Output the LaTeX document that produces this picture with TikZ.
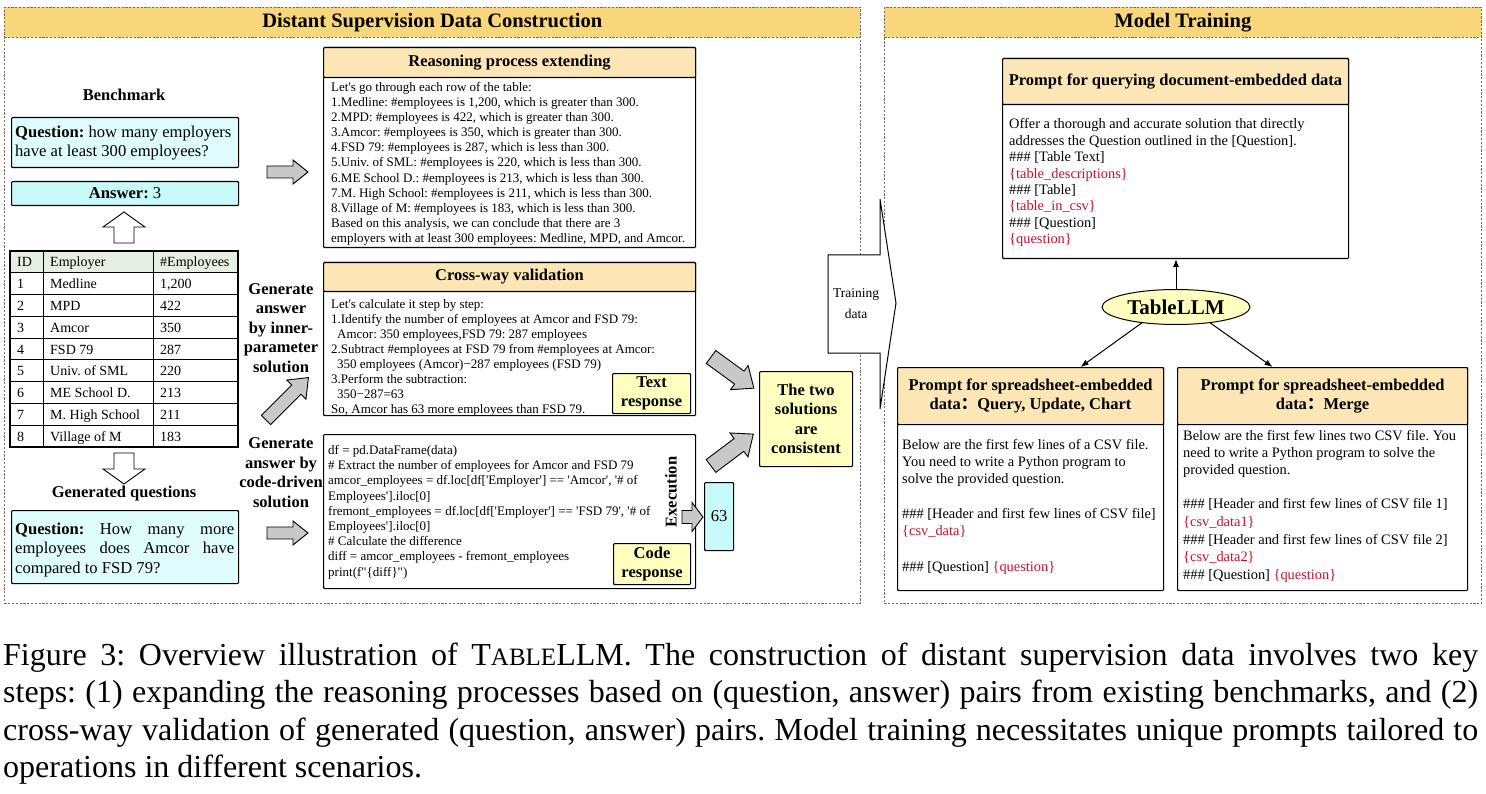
\documentclass[tikz,border=0pt]{standalone}
\usepackage{fontspec}
\setmainfont{Liberation Serif}
\newfontfamily\plainfont{Liberation Serif}
\newfontfamily\cjkfont{Noto Sans CJK SC}
\usetikzlibrary{shapes.geometric,arrows.meta,calc}
\definecolor{bandorange}{RGB}{249,214,122}
\definecolor{headorange}{RGB}{252,230,182}
\definecolor{qcyan}{RGB}{224,253,253}
\definecolor{acyan}{RGB}{200,250,250}
\definecolor{ycell}{RGB}{255,255,192}
\definecolor{thead}{RGB}{230,240,226}
\definecolor{agrey}{RGB}{200,200,200}
\definecolor{vred}{RGB}{190,20,50}
\definecolor{panelline}{RGB}{110,110,110}
\frenchspacing
\newcommand\myBody{\plainfont\fontsize{13}{15}\selectfont}
\newcommand\myPBody{\plainfont\fontsize{14.4}{16}\selectfont}
\newcommand\myHead{\bfseries\fontsize{20.5}{22}\selectfont}
\newcommand\myLabel{\bfseries\fontsize{16.5}{19.5}\selectfont}
\newcommand\myQ{\fontsize{16.6}{19}\selectfont}
\newcommand\myTab{\fontsize{14}{16}\selectfont}
\newcommand\myCap{\fontsize{32}{37.5}\selectfont}
\newcommand\myTrain{\fontsize{13.5}{21}\selectfont}
\tikzset{
  panel/.style={draw=panelline, dash pattern=on 2.2pt off 1.6pt, line width=0.7pt, inner sep=0, anchor=north west},
  band/.style={panel, fill=bandorange},
  box/.style={draw=black, line width=1.1pt, rounded corners=1pt, inner sep=0, anchor=north west},
  qbox/.style={box, fill=qcyan},
  hbox/.style={box, fill=headorange},
  ybox/.style={box, fill=ycell},
  txt/.style={anchor=base west, inner sep=0, font=\myBody},
  ptxt/.style={anchor=base west, inner sep=0, font=\myPBody},
  conn/.style={line width=1pt, -{Latex[length=8pt,width=6pt]}},
  pics/barrow/.style args={#1/#2/#3/#4}{code={
    \path[pic actions] (0,-#2/2) -- ({#1-#4},-#2/2) -- ({#1-#4},-#3/2) -- (#1,0) -- ({#1-#4},#3/2) -- ({#1-#4},#2/2) -- (0,#2/2) -- cycle;}},
  garrow/.style={draw=black, fill=agrey, line width=0.9pt, line join=miter},
  warrow/.style={draw=black, fill=white, line width=0.9pt, line join=miter},
}
\begin{document}
\frenchspacing
\begin{tikzpicture}[x=1pt,y=-1pt]
\useasboundingbox (0,0) rectangle (1486,794);
\fill[white] (0,0) rectangle (1486,794);

% panels
\node[panel, minimum width=856, minimum height=596] (panelL) at (4,7) {};
\node[band, minimum width=856, minimum height=30] (bandL) at (4,7) {};
\node[font=\myHead] (titleL) at (bandL.center) {Distant Supervision Data Construction};
\node[panel, minimum width=597, minimum height=596] (panelR) at (884,7) {};
\node[band, minimum width=597, minimum height=30] (bandR) at (884,7) {};
\node[font=\myHead] (titleR) at (bandR.center) {Model Training};

% benchmark
\node[font=\myLabel] (bench) at (124,95) {Benchmark};
\node[qbox, minimum width=227, minimum height=50] (q1) at (11,117) {};
\node[anchor=base west, inner sep=0, font=\myQ] (q1a) at (15,138) {\textbf{Question:} how many employers};
\node[anchor=base west, inner sep=0, font=\myQ] (q1b) at (15,157) {have at least 300 employees?};
\node[box, fill=acyan, minimum width=227, minimum height=24] (ans) at (11,181) {};
\node[font=\myQ] (anst) at (ans.center) {\textbf{Answer:} 3};
\pic[warrow, rotate=90] at (124,243) {barrow=31/20/42/15};

% table
\fill[thead] (10,251) rectangle (238,272.75);
\foreach \k in {1,...,8} \draw[line width=0.6pt] (10,{251+21.75*\k}) -- (238,{251+21.75*\k});
\draw[line width=0.6pt] (43,251) -- (43,447) (153,251) -- (153,447);
\draw[line width=1.5pt] (10,251) rectangle (238,447);
\node[anchor=base west, inner sep=0, font=\myTab] (th1) at (17,267) {ID};
\node[anchor=base west, inner sep=0, font=\myTab] (th2) at (50,267) {Employer};
\node[anchor=base west, inner sep=0, font=\myTab] (th3) at (160,267) {\#Employees};
\foreach \a/\b/\c [count=\k] in {1/Medline/{1,200},2/MPD/422,3/Amcor/350,4/FSD 79/287,5/Univ. of SML/220,6/ME School D./213,7/M. High School/211,8/Village of M/183}{
  \node[anchor=base west, inner sep=0, font=\myTab] (ta\k) at (17,{267+21.75*\k}) {\a};
  \node[anchor=base west, inner sep=0, font=\myTab] (tb\k) at (50,{267+21.75*\k}) {\b};
  \node[anchor=base west, inner sep=0, font=\myTab] (tc\k) at (160,{267+21.75*\k}) {\c};
}
\pic[warrow, rotate=-90] at (124,453) {barrow=31/20/42/15};
\node[font=\myLabel] (genq) at (124,494) {Generated questions};
\node[qbox, minimum width=227, minimum height=73] (q2) at (11,510) {};
\node[anchor=base west, inner sep=0, font=\myQ] (q2a) at (15,534) {\makebox[219pt][s]{\textbf{Question:} How many more}};
\node[anchor=base west, inner sep=0, font=\myQ] (q2b) at (15,553) {\makebox[219pt][s]{employees does Amcor have}};
\node[anchor=base west, inner sep=0, font=\myQ] (q2c) at (15,573) {compared to FSD 79?};

% middle arrows and labels
\pic[garrow] at (267,172) {barrow=41/12/24/15};
\pic[garrow] at (267,533) {barrow=41/12/24/15};
\pic[garrow, rotate=45] at (266,420) {barrow=60/13/27/17};
\node[font=\myLabel, align=center] (gen1) at (281,328) {Generate\\answer\\by inner-\\parameter\\solution};
\node[font=\myLabel, align=center] (gen2) at (281,472.5) {Generate\\answer by\\code-driven\\solution};

% reasoning box
\node[box, minimum width=372, minimum height=200] (reason) at (323,47) {};
\node[hbox, minimum width=372, minimum height=30] (reasonH) at (323,47) {};
\node[font=\myLabel] (reasonT) at (reasonH.center) {Reasoning process extending};
\foreach \lineText [count=\i from 0] in {
 {Let's go through each row of the table:},
 {1.Medline: \#employees is 1,200, which is greater than 300.},
 {2.MPD: \#employees is 422, which is greater than 300.},
 {3.Amcor: \#employees is 350, which is greater than 300.},
 {4.FSD 79: \#employees is 287, which is less than 300.},
 {5.Univ. of SML: \#employees is 220, which is less than 300.},
 {6.ME School D.: \#employees is 213, which is less than 300.},
 {7.M. High School: \#employees is 211, which is less than 300.},
 {8.Village of M: \#employees is 183, which is less than 300.},
 {Based on this analysis, we can conclude that there are 3},
 {employers with at least 300 employees: Medline, MPD, and Amcor.}}
 \node[txt] (rs\i) at (331,{91.5+15.1*\i}) {\lineText};

% cross-way validation
\node[box, minimum width=372, minimum height=153] (cross) at (323,262) {};
\node[hbox, minimum width=372, minimum height=29] (crossH) at (323,262) {};
\node[font=\myLabel] (crossT) at (crossH.center) {Cross-way validation};
\foreach \xx/\lineText [count=\i from 0] in {
 331/{Let's calculate it step by step:},
 331/{1.Identify the number of employees at Amcor and FSD 79:},
 337/{Amcor: 350 employees,FSD 79: 287 employees},
 331/{2.Subtract \#employees at FSD 79 from \#employees at Amcor:},
 337/{350 employees (Amcor)−287 employees (FSD 79)},
 331/{3.Perform the subtraction:},
 337/{350−287=63},
 331/{So, Amcor has 63 more employees than FSD 79.}}
 \node[txt] (cv\i) at (\xx,{308.5+15*\i}) {\lineText};
\node[ybox, minimum width=78, minimum height=40] (textresp) at (612,373) {};
\node[font=\myLabel, align=center] (textrespT) at (textresp.center) {Text\\response};

% code box
\node[box, minimum width=372, minimum height=154] (code) at (323,434) {};
\foreach \lineText [count=\i from 0] in {
 {df = pd.DataFrame(data)},
 {\# Extract the number of employees for Amcor and FSD 79},
 {amcor\_employees = df.loc[df['Employer'] == 'Amcor', '\# of},
 {Employees'].iloc[0]},
 {fremont\_employees = df.loc[df['Employer'] == 'FSD 79', '\# of},
 {Employees'].iloc[0]},
 {\# Calculate the difference},
 {diff = amcor\_employees - fremont\_employees},
 {print(f"\{diff\}")}}
 \node[txt] (cd\i) at (328,{454.5+15.2*\i}) {\lineText};
\node[ybox, minimum width=77, minimum height=41] (coderesp) at (613,543) {};
\node[font=\myLabel, align=center] (coderespT) at (coderesp.center) {Code\\response};
\node[font=\myLabel, rotate=90] (exec) at (671,492) {Execution};
\pic[garrow] at (682,517) {barrow=21/13/29/11};
\node[box, fill=acyan, minimum width=29, minimum height=68] (res63) at (704,482) {};
\node[font=\myQ] (res63T) at (res63.center) {63};

% consistency
\pic[garrow, rotate=-36] at (711,357) {barrow=53/16/30/18};
\pic[garrow, rotate=37] at (711,466) {barrow=53/16/30/18};
\node[ybox, minimum width=93, minimum height=95] (cons) at (759,371) {};
\node[font=\myLabel, align=center] (consT) at (cons.center) {The two\\solutions\\are\\consistent};

% training data callout
\draw[line width=1pt, fill=white, line join=miter] (828,255) -- (880,255) -- (880,199) -- (896,303) -- (880,409) -- (880,353) -- (828,353) -- cycle;
\node[font=\myTrain, align=center] (train) at (856,304) {Training\\data};

% query prompt
\node[box, minimum width=346, minimum height=200] (qp) at (1002,58) {};
\node[hbox, minimum width=346, minimum height=46] (qpH) at (1002,58) {};
\node[font=\myLabel] (qpT) at (qpH.center) {Prompt for querying document-embedded data};
\foreach \lineText [count=\i from 0] in {
 {Offer a thorough and accurate solution that directly},
 {addresses the Question outlined in the [Question].},
 {\#\#\# [Table Text]},
 {\color{vred}\{table\_descriptions\}},
 {\#\#\# [Table]},
 {\color{vred}\{table\_in\_csv\}},
 {\#\#\# [Question]},
 {\color{vred}\{question\}}}
 \node[ptxt] (qpl\i) at (1009,{129+16.4*\i}) {\lineText};

% TableLLM
\node[ellipse, draw, line width=1pt, fill=ycell, minimum width=148, minimum height=35, inner sep=0, font=\bfseries\fontsize{21}{24}\selectfont] (llm) at (1176,307) {TableLLM};

% spreadsheet prompts
\node[box, minimum width=266, minimum height=223] (sp1) at (897,367) {};
\node[hbox, minimum width=266, minimum height=57] (sp1H) at (897,367) {};
\node[font=\myLabel, align=center] (sp1T) at (sp1H.center) {Prompt for spreadsheet-embedded\\data{\cjkfont ：}Query, Update, Chart};
\foreach \yy/\lineText [count=\i from 0] in {
 449/{Below are the first few lines of a CSV file.},
 466.3/{You need to write a Python program to},
 483.5/{solve the provided question.},
 518/{\#\#\# [Header and first few lines of CSV file]},
 535/{\color{vred}\{csv\_data\}},
 571/{\#\#\# [Question] {\color{vred}\{question\}}}}
 \node[ptxt] (spa\i) at (902,\yy) {\lineText};

\node[box, minimum width=290, minimum height=223] (sp2) at (1177,367) {};
\node[hbox, minimum width=290, minimum height=57] (sp2H) at (1177,367) {};
\node[font=\myLabel, align=center] (sp2T) at (sp2H.center) {Prompt for spreadsheet-embedded\\data{\cjkfont ：}Merge};
\foreach \yy/\lineText [count=\i from 0] in {
 440/{Below are the first few lines two CSV file. You},
 457/{need to write a Python program to solve the},
 474/{provided question.},
 508/{\#\#\# [Header and first few lines of CSV file 1]},
 526/{\color{vred}\{csv\_data1\}},
 544/{\#\#\# [Header and first few lines of CSV file 2]},
 561/{\color{vred}\{csv\_data2\}},
 579/{\#\#\# [Question] {\color{vred}\{question\}}}}
 \node[ptxt] (spb\i) at (1183,\yy) {\lineText};

\draw[conn] (llm.north) -- (llm.north |- qp.south);
\draw[conn] (llm.205) -- ([xshift=50pt]sp1.north);
\draw[conn] (llm.335) -- ([xshift=-50pt]sp2.north);

% caption
\node[anchor=base west, inner sep=0, font=\myCap] (cap1) at (3,665) {\makebox[1475pt][s]{Figure 3: Overview illustration of T{\fontsize{25}{25}\selectfont ABLE}LLM. The construction of distant supervision data involves two key}};
\node[anchor=base west, inner sep=0, font=\myCap] (cap2) at (3,702.5) {\makebox[1475pt][s]{steps: (1) expanding the reasoning processes based on (question, answer) pairs from existing benchmarks, and (2)}};
\node[anchor=base west, inner sep=0, font=\myCap] (cap3) at (3,740) {\makebox[1475pt][s]{cross-way validation of generated (question, answer) pairs. Model training necessitates unique prompts tailored to}};
\node[anchor=base west, inner sep=0, font=\myCap] (cap4) at (3,777.5) {operations in different scenarios.};
\end{tikzpicture}
\end{document}
